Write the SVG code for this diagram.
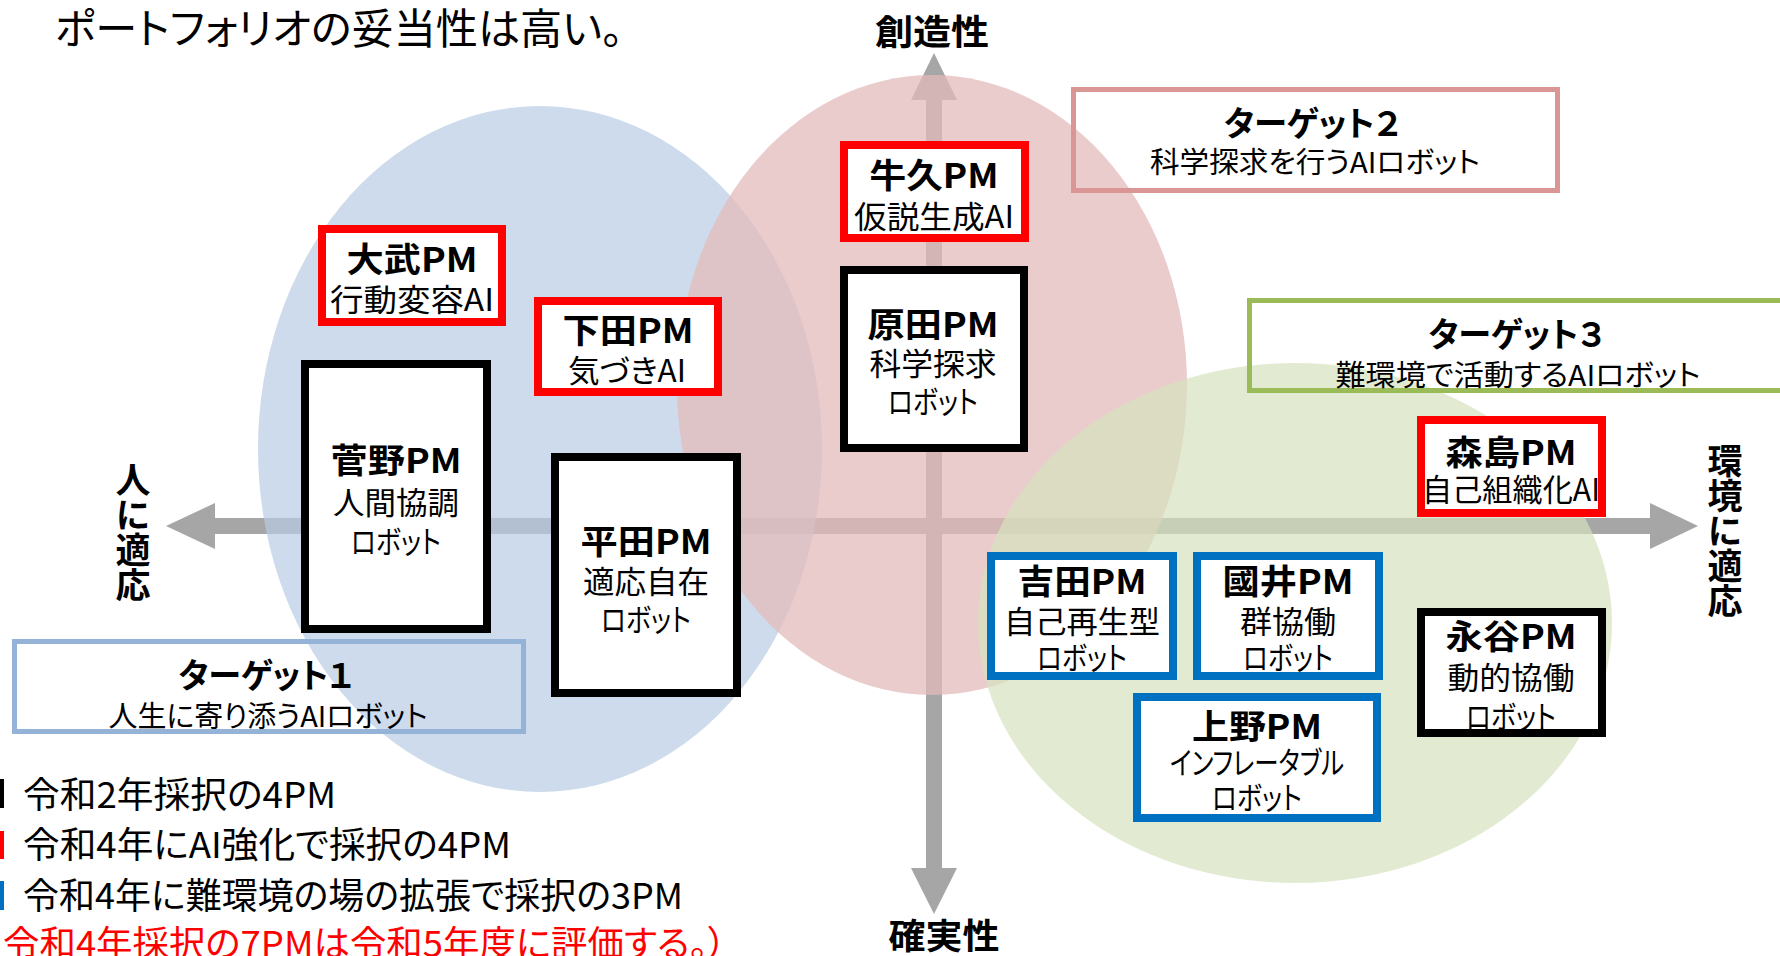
<svg xmlns="http://www.w3.org/2000/svg" width="1780" height="956" viewBox="0 0 1780 956">
<style>
text { font-family: "Noto Sans CJK JP", "Noto Sans", sans-serif; font-feature-settings: "palt"; fill: #000; }
.c { text-anchor: middle; }
.ti { font-size: 34px; font-weight: bold; }
.sb { font-size: 31px; }
.ax { font-size: 35px; font-weight: bold; }
.vt { font-size: 35px; font-weight: bold; writing-mode: vertical-rl; font-feature-settings: normal; }
.tg { font-size: 34px; font-weight: bold; }
.ts { font-size: 29px; }
.lg { font-size: 36px; }
.axis { fill: #a6a6a6; }
.red { fill: #fff; stroke: #ff0000; stroke-width: 8; }
.blk { fill: #fff; stroke: #000; stroke-width: 8; }
.blu { fill: #fff; stroke: #0070c0; stroke-width: 8; }
</style>
<rect width="1780" height="956" fill="#fff"/>
<text x="55" y="44" font-size="42" textLength="568" lengthAdjust="spacingAndGlyphs">ポートフォリオの妥当性は高い。</text>

<g id="axes">
  <rect class="axis" x="215" y="518" width="1435" height="16"/>
  <polygon class="axis" points="166,526 215,503 215,549"/>
  <polygon class="axis" points="1698,526 1650,503 1650,549"/>
  <rect class="axis" x="926" y="100" width="16" height="768"/>
  <polygon class="axis" points="934,53 911,100 957,100"/>
  <polygon class="axis" points="934,914 911,868 957,868"/>
</g>

<g id="regions">
  <ellipse cx="540" cy="449" rx="282" ry="343" fill="#b8cce4" fill-opacity="0.7"/>
  <ellipse cx="932" cy="385" rx="255" ry="310" fill="#e4baba" fill-opacity="0.74"/>
  <ellipse cx="1295" cy="623" rx="317" ry="260" fill="#d6e2bf" fill-opacity="0.7"/>
</g>

<g id="axis-labels">
  <text class="ax c" x="932" y="45" textLength="114" lengthAdjust="spacingAndGlyphs">創造性</text>
  <text class="ax c" x="944" y="949" textLength="111" lengthAdjust="spacingAndGlyphs">確実性</text>
  <text class="vt" x="133" y="462">人に適応</text>
  <text class="vt" x="1725" y="443">環境に適応</text>
</g>

<g id="target1">
  <rect x="14.5" y="641.5" width="509" height="90" fill="none" stroke="#95b3d7" stroke-width="5"/>
  <text class="tg c" x="266" y="688" textLength="175" lengthAdjust="spacingAndGlyphs">ターゲット１</text>
  <text class="ts c" x="268" y="727" textLength="319" lengthAdjust="spacingAndGlyphs">人生に寄り添うAIロボット</text>
</g>
<g id="target2">
  <rect x="1073.5" y="89.5" width="484" height="101" fill="none" stroke="#d99694" stroke-width="5"/>
  <text class="tg c" x="1312" y="136" textLength="176" lengthAdjust="spacingAndGlyphs">ターゲット２</text>
  <text class="ts c" x="1315" y="173" textLength="330" lengthAdjust="spacingAndGlyphs">科学探求を行うAIロボット</text>
</g>
<g id="target3">
  <rect x="1249.5" y="300.5" width="540" height="90" fill="none" stroke="#9bbb59" stroke-width="5"/>
  <text class="tg c" x="1516" y="347" textLength="175" lengthAdjust="spacingAndGlyphs">ターゲット３</text>
  <text class="ts c" x="1518" y="386" textLength="365" lengthAdjust="spacingAndGlyphs">難環境で活動するAIロボット</text>
</g>

<g id="node-otake">
  <rect class="red" x="322" y="229" width="180" height="93"/>
  <text class="ti c" x="412" y="272" textLength="131" lengthAdjust="spacingAndGlyphs">大武PM</text>
  <text class="sb c" x="412" y="311" textLength="164" lengthAdjust="spacingAndGlyphs">行動変容AI</text>
</g>
<g id="node-shimoda">
  <rect class="red" x="538" y="301" width="180" height="91"/>
  <text class="ti c" x="628" y="343" textLength="131" lengthAdjust="spacingAndGlyphs">下田PM</text>
  <text class="sb c" x="627" y="382" textLength="118" lengthAdjust="spacingAndGlyphs">気づきAI</text>
</g>
<g id="node-ushiku">
  <rect class="red" x="844" y="145" width="181" height="93"/>
  <text class="ti c" x="934" y="188" textLength="129" lengthAdjust="spacingAndGlyphs">牛久PM</text>
  <text class="sb c" x="934" y="228" textLength="160" lengthAdjust="spacingAndGlyphs">仮説生成AI</text>
</g>
<g id="node-harada">
  <rect class="blk" x="844" y="270" width="180" height="178"/>
  <text class="ti c" x="933" y="337" textLength="131" lengthAdjust="spacingAndGlyphs">原田PM</text>
  <text class="sb c" x="933" y="375" textLength="127" lengthAdjust="spacingAndGlyphs">科学探求</text>
  <text class="sb c" x="933" y="413" textLength="90" lengthAdjust="spacingAndGlyphs">ロボット</text>
</g>
<g id="node-sugano">
  <rect class="blk" x="305" y="364" width="182" height="265"/>
  <text class="ti c" x="396" y="473" textLength="131" lengthAdjust="spacingAndGlyphs">菅野PM</text>
  <text class="sb c" x="396" y="514" textLength="126" lengthAdjust="spacingAndGlyphs">人間協調</text>
  <text class="sb c" x="396" y="553" textLength="90" lengthAdjust="spacingAndGlyphs">ロボット</text>
</g>
<g id="node-hirata">
  <rect class="blk" x="555" y="457" width="182" height="236"/>
  <text class="ti c" x="646" y="554" textLength="131" lengthAdjust="spacingAndGlyphs">平田PM</text>
  <text class="sb c" x="646" y="593" textLength="126" lengthAdjust="spacingAndGlyphs">適応自在</text>
  <text class="sb c" x="646" y="631" textLength="90" lengthAdjust="spacingAndGlyphs">ロボット</text>
</g>
<g id="node-morishima">
  <rect class="red" x="1421" y="420" width="181" height="93"/>
  <text class="ti c" x="1511" y="465" textLength="131" lengthAdjust="spacingAndGlyphs">森島PM</text>
  <text class="sb c" x="1511" y="501" textLength="178" lengthAdjust="spacingAndGlyphs">自己組織化AI</text>
</g>
<g id="node-yoshida">
  <rect class="blu" x="991" y="556" width="182" height="120"/>
  <text class="ti c" x="1082" y="594" textLength="129" lengthAdjust="spacingAndGlyphs">吉田PM</text>
  <text class="sb c" x="1082" y="633" textLength="156" lengthAdjust="spacingAndGlyphs">自己再生型</text>
  <text class="sb c" x="1082" y="669" textLength="90" lengthAdjust="spacingAndGlyphs">ロボット</text>
</g>
<g id="node-kunii">
  <rect class="blu" x="1197" y="556" width="182" height="120"/>
  <text class="ti c" x="1288" y="594" textLength="131" lengthAdjust="spacingAndGlyphs">國井PM</text>
  <text class="sb c" x="1288" y="633" textLength="96" lengthAdjust="spacingAndGlyphs">群協働</text>
  <text class="sb c" x="1288" y="669" textLength="90" lengthAdjust="spacingAndGlyphs">ロボット</text>
</g>
<g id="node-ueno">
  <rect class="blu" x="1137" y="697" width="240" height="121"/>
  <text class="ti c" x="1257" y="739" textLength="130" lengthAdjust="spacingAndGlyphs">上野PM</text>
  <text class="sb c" x="1257" y="774" textLength="174" lengthAdjust="spacingAndGlyphs">インフレータブル</text>
  <text class="sb c" x="1257" y="809" textLength="90" lengthAdjust="spacingAndGlyphs">ロボット</text>
</g>
<g id="node-nagatani">
  <rect class="blk" x="1421" y="612" width="181" height="121"/>
  <text class="ti c" x="1511" y="649" textLength="131" lengthAdjust="spacingAndGlyphs">永谷PM</text>
  <text class="sb c" x="1511" y="689" textLength="127" lengthAdjust="spacingAndGlyphs">動的協働</text>
  <text class="sb c" x="1511" y="728" textLength="90" lengthAdjust="spacingAndGlyphs">ロボット</text>
</g>

<g id="legend">
  <rect x="0" y="779" width="4" height="29" fill="#000"/>
  <text class="lg" x="23" y="808" textLength="313" lengthAdjust="spacingAndGlyphs">令和2年採択の4PM</text>
  <rect x="0" y="831" width="4" height="28" fill="#ff0000"/>
  <text class="lg" x="23" y="858" textLength="488" lengthAdjust="spacingAndGlyphs">令和4年にAI強化で採択の4PM</text>
  <rect x="0" y="881" width="4" height="29" fill="#0070c0"/>
  <text class="lg" x="23" y="909" textLength="660" lengthAdjust="spacingAndGlyphs">令和4年に難環境の場の拡張で採択の3PM</text>
  <text class="lg" x="3" y="957" textLength="723" lengthAdjust="spacingAndGlyphs" style="fill:#ff0000">令和4年採択の7PMは令和5年度に評価する。）</text>
</g>
</svg>
